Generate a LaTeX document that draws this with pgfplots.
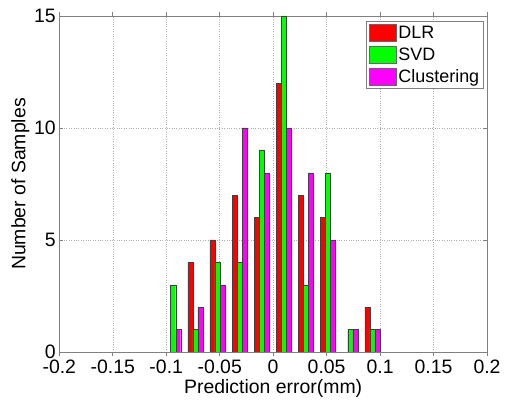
\documentclass[border=0pt]{standalone}
\usepackage{pgfplots}
\pgfplotsset{compat=1.18}
\usepackage{fontspec}
\setmainfont{Liberation Sans}
\definecolor{axgray}{RGB}{128,128,128}
\definecolor{gridgray}{RGB}{175,175,175}
\begin{document}
\begin{tikzpicture}
\begin{axis}[
  scale only axis,
  width=427.7bp, height=336bp,
  xmin=-0.2, xmax=0.2, ymin=0, ymax=15,
  xtick={-0.2,-0.15,-0.1,-0.05,0,0.05,0.1,0.15,0.2},
  xticklabels={-0.2,-0.15,-0.1,-0.05,0,0.05,0.1,0.15,0.2},
  ytick={0,5,10,15},
  yticklabels={0,5,10,15},
  grid=major,
  major grid style={gridgray, dotted, line width=0.5pt},
  axis line style={axgray, line width=0.7pt},
  tick style={axgray, line width=0.6pt},
  major tick length=4bp,
  tick align=inside,
  ticklabel style={font=\fontsize{19.5}{19.5}\selectfont},
  label style={font=\fontsize{19.5}{19.5}\selectfont},
  xlabel={Prediction error(mm)},
  ylabel={Number of Samples},
  xlabel style={yshift=1bp},
  ylabel style={yshift=-2bp},
  ybar,
  bar width=0.0047,
  legend style={at={(0.993,0.985)}, anchor=north east, draw=axgray, line width=0.6pt,
    font=\fontsize{18}{18}\selectfont, row sep=4bp, inner sep=2.5bp},
  legend cell align=left,
  legend image code/.code={\draw[#1, draw=black!60, line width=0.4pt] (0bp,-8.5bp) rectangle (27bp,8.5bp);},
]
\addplot[fill={rgb,1:red,1;green,0;blue,0}, draw=black!75, line width=0.35pt, bar shift=-0.0047] coordinates {
 (-0.0728,4) (-0.0521,5) (-0.0314,7) (-0.0107,6) (0.0100,12) (0.0307,7) (0.0514,6) (0.0928,2)
};
\addlegendentry{DLR}
\addplot[fill={rgb,1:red,0;green,1;blue,0}, draw=black!75, line width=0.35pt, bar shift=0] coordinates {
 (-0.0935,3) (-0.0728,1) (-0.0521,4) (-0.0314,4) (-0.0107,9) (0.0100,15) (0.0307,3) (0.0514,8) (0.0721,1) (0.0928,1)
};
\addlegendentry{SVD}
\addplot[fill={rgb,1:red,1;green,0;blue,1}, draw=black!75, line width=0.35pt, bar shift=0.0047] coordinates {
 (-0.0935,1) (-0.0728,2) (-0.0521,3) (-0.0314,10) (-0.0107,8) (0.0100,10) (0.0307,8) (0.0514,5) (0.0721,1) (0.0928,1)
};
\addlegendentry{Clustering}
\end{axis}
\path (current axis.south west) ++(-59.3bp,-51bp) coordinate (bbll);
\path (current axis.north east) ++(18bp,16bp) coordinate (bbur);
\path (bbll) rectangle (bbur);
\end{tikzpicture}
\end{document}
